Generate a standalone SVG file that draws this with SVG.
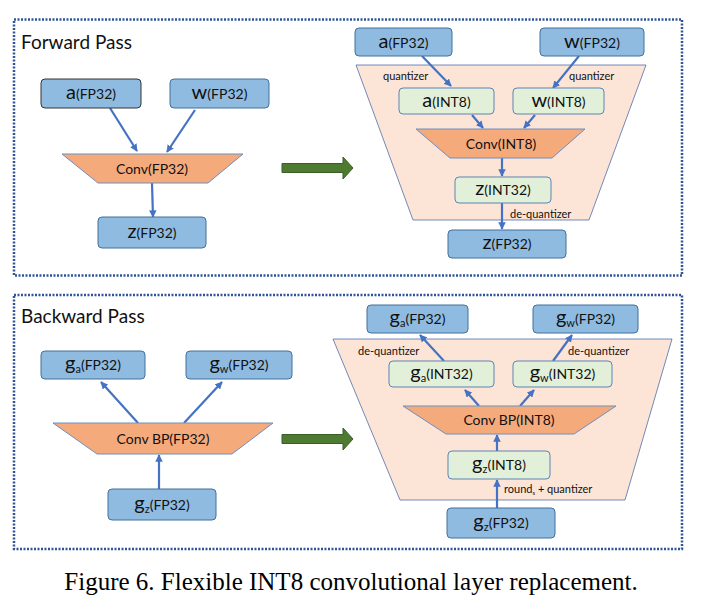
<svg xmlns="http://www.w3.org/2000/svg" width="701" height="611" viewBox="0 0 701 611">
<defs>
<marker id="ah" viewBox="0 0 10 10" refX="9" refY="5" markerWidth="3.4" markerHeight="3.4" orient="auto" markerUnits="strokeWidth">
<path d="M0,0 L10,5 L0,10 z" fill="#4472C4"/>
</marker>
<style>
.frame{fill:none;stroke:#2F5597;stroke-width:2.5;stroke-dasharray:2 1.5}
.blue{fill:#8FBBE1;stroke:#41719C;stroke-width:1}
.green{fill:#E2F0D9;stroke:#5B85B5;stroke-width:1}
.conv{fill:#F5AA7C;stroke:#6D8FC0;stroke-width:1}
.big{fill:#FCE4D6;stroke:#4F6FA8;stroke-width:0.8}
.t{font-family:Lato,"Open Sans","Liberation Sans",sans-serif;fill:#111;text-anchor:middle}
.big1{font-size:20px}
.sm{font-size:14px}
.sub{font-size:11px}
.lbl{font-family:Lato,"Open Sans","Liberation Sans",sans-serif;font-size:11px;fill:#111}
.title{font-family:Lato,"Open Sans","Liberation Sans",sans-serif;font-size:19px;fill:#111}
.arr{stroke:#4472C4;stroke-width:2.2;fill:none;marker-end:url(#ah)}
.garr{fill:#4E7A32;stroke:#3B5E26;stroke-width:1}
</style>
</defs>
<rect width="701" height="611" fill="#fff"/>
<g id="frames">
<rect class="frame" x="14" y="19.5" width="668" height="256"/>
<rect class="frame" x="14" y="295" width="668" height="254"/>
<text class="title" x="21" y="49">Forward Pass</text>
<text class="title" x="21" y="323">Backward Pass</text>
</g>
<g id="fwd-replace-bg">
<polygon class="big" points="356,65 646,65 589,220 413,220"/>
</g>
<g id="bwd-replace-bg">
<polygon class="big" points="333,339 672,339 625,500 400,500"/>
</g>
<g id="green-arrows">
<polygon class="garr" points="282,163.5 343,163.5 343,157 353,168 343,179 343,172.5 282,172.5"/>
<polygon class="garr" points="282,434.5 343,434.5 343,428 353,439 343,450 343,443.5 282,443.5"/>
</g>
<g id="connectors">
<line class="arr" x1="110" y1="108" x2="137" y2="151"/>
<line class="arr" x1="195" y1="110" x2="167" y2="152"/>
<line class="arr" x1="152" y1="183" x2="153" y2="217"/>
<line class="arr" x1="422" y1="56" x2="451" y2="86"/>
<line class="arr" x1="579" y1="56" x2="553" y2="88"/>
<line class="arr" x1="472" y1="115" x2="483" y2="128"/>
<line class="arr" x1="535" y1="115" x2="524" y2="128"/>
<line class="arr" x1="502" y1="158" x2="502" y2="176"/>
<line class="arr" x1="502" y1="203" x2="502" y2="229"/>
<line class="arr" x1="138" y1="423" x2="101" y2="382"/>
<line class="arr" x1="184" y1="423" x2="222" y2="382"/>
<line class="arr" x1="159" y1="489" x2="159" y2="455"/>
<line class="arr" x1="444" y1="361" x2="420" y2="335"/>
<line class="arr" x1="553" y1="361" x2="572" y2="335"/>
<line class="arr" x1="479" y1="406" x2="465" y2="390"/>
<line class="arr" x1="520" y1="406" x2="534" y2="390"/>
<line class="arr" x1="497" y1="451" x2="497" y2="435"/>
<line class="arr" x1="497" y1="508" x2="497" y2="480"/>
</g>
<g id="edge-labels">
<text class="lbl" x="383" y="80">quantizer</text>
<text class="lbl" x="569" y="80">quantizer</text>
<text class="lbl" x="510" y="218">de-quantizer</text>
<text class="lbl" x="358" y="355">de-quantizer</text>
<text class="lbl" x="568" y="355">de-quantizer</text>
<text class="lbl" x="504" y="493">round<tspan font-size="6" dy="2">s</tspan><tspan dy="-2"> + quantizer</tspan></text>
</g>
<g id="f-a">
<rect class="blue" x="41" y="79" width="100" height="29" rx="4" style="stroke:#333"/>
<text class="t" x="91" y="99"><tspan class="big1">a</tspan><tspan class="sm">(FP32)</tspan></text>
</g>
<g id="f-w">
<rect class="blue" x="170" y="79" width="99" height="29" rx="4"/>
<text class="t" x="219.5" y="99"><tspan class="big1">w</tspan><tspan class="sm">(FP32)</tspan></text>
</g>
<g id="f-conv">
<polygon class="conv" points="62,154 243,154 208,183 98,183"/>
<text class="t sm" x="152" y="174">Conv(FP32)</text>
</g>
<g id="f-z">
<rect class="blue" x="98" y="217" width="108" height="31" rx="4"/>
<text class="t" x="152" y="238"><tspan class="big1">z</tspan><tspan class="sm">(FP32)</tspan></text>
</g>
<g id="fr-a">
<rect class="blue" x="355" y="28" width="97" height="28" rx="4"/>
<text class="t" x="403.5" y="48"><tspan class="big1">a</tspan><tspan class="sm">(FP32)</tspan></text>
</g>
<g id="fr-w">
<rect class="blue" x="540" y="28" width="104" height="28" rx="4"/>
<text class="t" x="592" y="48"><tspan class="big1">w</tspan><tspan class="sm">(FP32)</tspan></text>
</g>
<g id="fr-a8">
<rect class="green" x="399" y="88" width="95" height="26" rx="4"/>
<text class="t" x="446.5" y="107"><tspan class="big1">a</tspan><tspan class="sm">(INT8)</tspan></text>
</g>
<g id="fr-w8">
<rect class="green" x="513" y="88" width="91" height="26" rx="4"/>
<text class="t" x="558.5" y="107"><tspan class="big1">w</tspan><tspan class="sm">(INT8)</tspan></text>
</g>
<g id="fr-conv">
<polygon class="conv" points="416,129 585,129 552,158 450,158"/>
<text class="t sm" x="501" y="149">Conv(INT8)</text>
</g>
<g id="fr-z32">
<rect class="green" x="455" y="177" width="96" height="26" rx="4"/>
<text class="t" x="503" y="195"><tspan class="big1">z</tspan><tspan class="sm">(INT32)</tspan></text>
</g>
<g id="fr-z">
<rect class="blue" x="448" y="230" width="118" height="28" rx="4"/>
<text class="t" x="507" y="249"><tspan class="big1">z</tspan><tspan class="sm">(FP32)</tspan></text>
</g>
<g id="b-ga">
<rect class="blue" x="41" y="351" width="104" height="28" rx="4"/>
<text class="t" x="93" y="370"><tspan class="big1">g</tspan><tspan class="sub" dy="3">a</tspan><tspan class="sm" dy="-3">(FP32)</tspan></text>
</g>
<g id="b-gw">
<rect class="blue" x="186" y="351" width="106" height="28" rx="4"/>
<text class="t" x="239" y="370"><tspan class="big1">g</tspan><tspan class="sub" dy="3">w</tspan><tspan class="sm" dy="-3">(FP32)</tspan></text>
</g>
<g id="b-conv">
<polygon class="conv" points="53,423 273,423 232,454 97,454"/>
<text class="t sm" x="163" y="444">Conv BP(FP32)</text>
</g>
<g id="b-gz">
<rect class="blue" x="108" y="489" width="108" height="31" rx="4"/>
<text class="t" x="162" y="510"><tspan class="big1">g</tspan><tspan class="sub" dy="3">z</tspan><tspan class="sm" dy="-3">(FP32)</tspan></text>
</g>
<g id="br-ga">
<rect class="blue" x="367" y="305" width="101" height="28" rx="4"/>
<text class="t" x="417.5" y="324"><tspan class="big1">g</tspan><tspan class="sub" dy="3">a</tspan><tspan class="sm" dy="-3">(FP32)</tspan></text>
</g>
<g id="br-gw">
<rect class="blue" x="533" y="305" width="105" height="28" rx="4"/>
<text class="t" x="585.5" y="324"><tspan class="big1">g</tspan><tspan class="sub" dy="3">w</tspan><tspan class="sm" dy="-3">(FP32)</tspan></text>
</g>
<g id="br-ga32">
<rect class="green" x="389" y="361" width="105" height="26" rx="4"/>
<text class="t" x="441.5" y="379"><tspan class="big1">g</tspan><tspan class="sub" dy="3">a</tspan><tspan class="sm" dy="-3">(INT32)</tspan></text>
</g>
<g id="br-gw32">
<rect class="green" x="513" y="361" width="99" height="26" rx="4"/>
<text class="t" x="562.5" y="379"><tspan class="big1">g</tspan><tspan class="sub" dy="3">w</tspan><tspan class="sm" dy="-3">(INT32)</tspan></text>
</g>
<g id="br-conv">
<polygon class="conv" points="403,406 616,406 574,434 446,434"/>
<text class="t sm" x="509" y="425">Conv BP(INT8)</text>
</g>
<g id="br-gz8">
<rect class="green" x="448" y="451" width="102" height="28" rx="4"/>
<text class="t" x="499" y="470"><tspan class="big1">g</tspan><tspan class="sub" dy="3">z</tspan><tspan class="sm" dy="-3">(INT8)</tspan></text>
</g>
<g id="br-gz">
<rect class="blue" x="447" y="508" width="108" height="30" rx="4"/>
<text class="t" x="501" y="528"><tspan class="big1">g</tspan><tspan class="sub" dy="3">z</tspan><tspan class="sm" dy="-3">(FP32)</tspan></text>
</g>
<text x="351" y="590" font-family="Liberation Serif,serif" font-size="25" text-anchor="middle" fill="#000">Figure 6. Flexible INT8 convolutional layer replacement.</text>
</svg>
